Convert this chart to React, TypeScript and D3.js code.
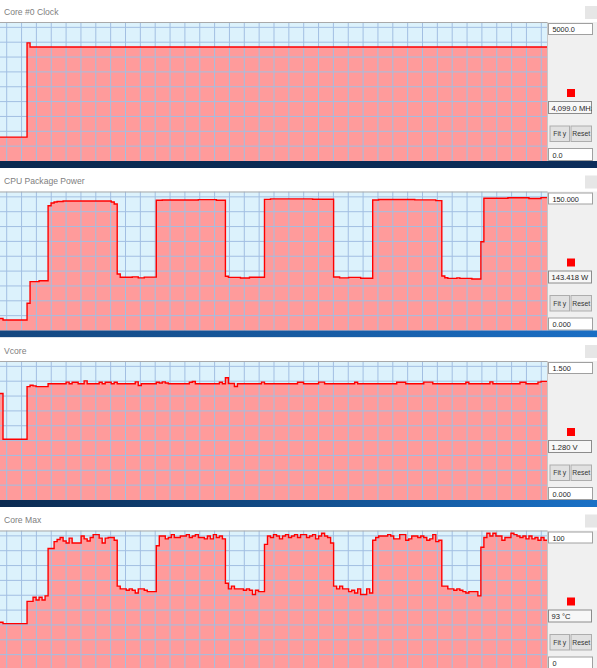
import React from "react";
import * as d3 from "d3";

const WIDTH = 597;
const HEIGHT = 668;

// Seconds of history visible in each graph
const SPAN = 182;

// Core #0 Clock (MHz): [second, value] change points
const clockPoints: [number, number][] = [
  [0, 860], [9, 4250], [10, 4099], [182, 4099],
];

// CPU Package Power (W): [second, value] change points
const powerPoints: [number, number][] = [
  [0, 13], [1, 11.3], [9, 29.4], [10, 52.7], [13, 53.7],
  [16, 134.7], [17, 137.6], [18, 138.7], [19, 139.2], [21, 139.8], [37, 138.7], [38, 136.5],
  [39, 61], [40, 57.5], [44, 57.9], [46, 56.8], [48, 57.6],
  [52, 140.5], [54, 140.9], [66, 141.2], [72, 140.6],
  [75, 58.5], [76, 57.3], [80, 56.6], [83, 57.5],
  [88, 141.5], [90, 142], [104, 141.6],
  [111, 57.8], [113, 56.8], [116, 57.3], [120, 56.4],
  [124, 140.8], [126, 141.3], [138, 141], [145, 140.2],
  [147, 58.8], [148, 57], [149, 56.3], [152, 56.8], [153, 56.3], [157, 55.6],
  [160, 95.8], [161, 142.7], [169, 143.3], [176, 142.4], [180, 143.418], [182, 143.418],
];

// Vcore (V): [second, value] change points
const vcorePoints: [number, number][] = [
  [0, 1.15], [1, 0.655], [9, 1.223], [10, 1.238], [11, 1.232], [12, 1.223],
  [16, 1.255], [22, 1.272], [23, 1.255], [24, 1.27], [26, 1.255], [28, 1.285], [29, 1.255],
  [33, 1.27], [34, 1.255], [35, 1.27], [37, 1.255], [38, 1.27], [39, 1.255],
  [45, 1.275], [46, 1.235], [47, 1.255], [52, 1.27], [53, 1.262], [54, 1.275], [55, 1.262],
  [56, 1.255], [63, 1.27], [64, 1.278], [65, 1.255], [73, 1.27], [74, 1.255],
  [75, 1.32], [76, 1.258], [78, 1.225], [79, 1.255], [87, 1.272], [88, 1.255],
  [99, 1.27], [101, 1.255], [106, 1.272], [108, 1.255], [118, 1.27], [119, 1.255],
  [132, 1.27], [135, 1.255], [141, 1.272], [144, 1.255], [155, 1.27], [156, 1.255],
  [163, 1.275], [164, 1.255], [173, 1.27], [175, 1.255], [179, 1.272], [180, 1.28], [182, 1.28],
];

// Core Max (°C): one reading per second, t = 0 … 182
const coreMaxValues: number[] = [
  34, 33, 33, 33, 33, 33, 33, 33, 33,
  49, 49, 52, 50, 52, 50, 53,
  87, 87, 92, 93.5, 95, 92.5, 91, 94.5, 91, 91, 91, 96, 94, 92.5, 95, 97, 97, 94.5, 91, 94.5, 95, 95, 93,
  60, 58, 58, 57, 58, 57, 55, 58, 58, 57, 56, 56, 56,
  89, 96, 96, 94, 95, 97, 95, 95, 96, 96, 97, 95, 96, 97, 95, 95, 94, 96, 94, 97, 95, 96, 94,
  62, 58, 60, 58, 58, 58, 57, 58, 57, 54, 57, 56, 56,
  90, 96, 95, 97, 96, 94, 96, 97, 95, 96, 97, 95, 97, 97, 95, 96, 97, 94, 96, 98, 96, 95, 91,
  60, 58, 60, 58, 58, 56, 57, 55, 58, 54, 54, 58, 55,
  93, 95, 96, 96, 96, 97, 96, 94, 94, 97, 97, 93, 94, 96, 96, 95, 96, 95, 93, 94, 97, 92, 93,
  60, 60, 58, 58, 57, 58, 57, 56, 55, 56, 56, 56, 53,
  88, 95, 98, 96, 98, 96, 96, 93, 95, 95, 98, 97, 96, 95, 96, 94, 96, 94, 95, 93, 95, 93, 93,
];
const coreMaxPoints: [number, number][] = coreMaxValues.map((v, i) => [i, v]);

// Per-graph settings
const titles = ["Core #0 Clock", "CPU Package Power", "Vcore", "Core Max"];
const seriesList = [clockPoints, powerPoints, vcorePoints, coreMaxPoints];
const scaleMax = [5000, 150, 1.5, 100];
const units = ["MHz", "W", "V", "°C"];
const limitFormats = [".1f", ".3f", ".3f", "d"];
const valueFormats = [",.1f", ".3f", ".3f", "d"];

// Layout
const PANEL_STEP = 169.5;
const FIRST_TOP = -1.5;
const HEADER_H = 23.5;
const PLOT_H = 139;
const PLOT_W = 547;
const GRID = 14.85;
const GRID_X0 = 6.7;

const barGradients = [
  ["#0a2950", "#0b2d5a"],
  ["#14477f", "#1a6ec4"],
  ["#0b2a50", "#1a71c6"],
];

const FONT = "'Liberation Sans', Arial, sans-serif";

function Panel({ index }: { index: number }) {
  const top = FIRST_TOP + index * PANEL_STEP;
  const plotTop = top + HEADER_H;
  const plotBottom = plotTop + PLOT_H;
  const data = seriesList[index];

  const x = d3.scaleLinear().domain([0, SPAN]).range([0, PLOT_W]);
  const y = d3.scaleLinear().domain([0, scaleMax[index]]).range([plotBottom, plotTop]);

  const line = d3
    .line<[number, number]>()
    .x((d) => x(d[0]))
    .y((d) => y(d[1]))
    .curve(d3.curveStepAfter);
  const area = d3
    .area<[number, number]>()
    .x((d) => x(d[0]))
    .y0(plotBottom + 2)
    .y1((d) => y(d[1]))
    .curve(d3.curveStepAfter);

  const vLines: number[] = [];
  for (let gx = GRID_X0; gx < PLOT_W; gx += GRID) vLines.push(gx);
  const hLines: number[] = [];
  for (let gy = plotBottom - GRID; gy > plotTop + 1; gy -= GRID) hLines.push(gy);

  const last = data[data.length - 1][1];
  const valueText = `${d3.format(valueFormats[index])(last)} ${units[index]}`;
  const topText = d3.format(limitFormats[index])(scaleMax[index]);
  const bottomText = d3.format(limitFormats[index])(0);

  const clipId = `plot-clip-${index}`;
  const valClip = `val-clip-${index}`;
  const gradId = `bar-grad-${index}`;
  const cx = 548.5;

  return (
    <g>
      <defs>
        <clipPath id={clipId}>
          <rect x={0} y={plotTop} width={PLOT_W} height={PLOT_H} />
        </clipPath>
        <clipPath id={valClip}>
          <rect x={cx} y={plotTop + 79.5} width={43} height={12} />
        </clipPath>
        {index < 3 && (
          <linearGradient id={gradId} x1="0" x2="1" y1="0" y2="0">
            <stop offset="0" stopColor={barGradients[index][0]} />
            <stop offset="1" stopColor={barGradients[index][1]} />
          </linearGradient>
        )}
      </defs>

      {/* window body and title strip */}
      <rect x={0} y={top} width={WIDTH} height={HEADER_H + PLOT_H} fill="#f0f0f0" />
      <rect x={0} y={top} width={WIDTH} height={HEADER_H} fill="#ffffff" />
      <rect x={585} y={top + 7.5} width={12} height={13} fill="#e6e6e6" />
      <text x={4} y={top + 16.2} fontFamily={FONT} fontSize={8.6} fill="#808080">
        {titles[index]}
      </text>

      {/* plot */}
      <g clipPath={`url(#${clipId})`}>
        <rect x={0} y={plotTop} width={PLOT_W} height={PLOT_H} fill="#dcf2fc" />
        <path d={area(data) ?? ""} fill="#ff9b9b" />
        {vLines.map((gx) => (
          <line key={`v${gx}`} x1={gx} x2={gx} y1={plotTop} y2={plotBottom} stroke="#a2bfe2" strokeWidth={1} />
        ))}
        {hLines.map((gy) => (
          <line key={`h${gy}`} x1={0} x2={PLOT_W} y1={gy} y2={gy} stroke="#a2bfe2" strokeWidth={1} />
        ))}
        <path d={line(data) ?? ""} fill="none" stroke="#ff0000" strokeWidth={1.4} />
      </g>
      <line x1={0} x2={PLOT_W} y1={plotTop + 0.5} y2={plotTop + 0.5} stroke="#a9a9a9" />
      <line x1={PLOT_W + 0.5} x2={PLOT_W + 0.5} y1={plotTop} y2={plotBottom} stroke="#c8c8c8" />

      {/* scale limits and current value */}
      <rect x={cx} y={plotTop + 1.5} width={44} height={11} fill="#ffffff" stroke="#a0a0a0" />
      <text x={cx + 4} y={plotTop + 10} fontFamily={FONT} fontSize={7.3} fill="#1e1e1e">
        {topText}
      </text>

      <rect x={567} y={plotTop + 67} width={8} height={8} fill="#ff0000" />

      <rect x={cx} y={plotTop + 79.5} width={43} height={12} fill="#f7f7f7" stroke="#8c8c8c" />
      <g clipPath={`url(#${valClip})`}>
        <text x={cx + 3} y={plotTop + 88.6} fontFamily={FONT} fontSize={7.6} fill="#1e1e1e">
          {valueText}
        </text>
      </g>

      <rect x={550} y={plotTop + 104} width={19.5} height={15.5} fill="#e1e1e1" stroke="#adadad" />
      <text x={559.75} y={plotTop + 114.3} textAnchor="middle" fontFamily={FONT} fontSize={6.8} fill="#333">
        Fit y
      </text>
      <rect x={571} y={plotTop + 104} width={20.5} height={15.5} fill="#e1e1e1" stroke="#adadad" />
      <text x={581.25} y={plotTop + 114.3} textAnchor="middle" fontFamily={FONT} fontSize={6.8} fill="#333">
        Reset
      </text>

      <rect x={cx} y={plotTop + 126.5} width={44} height={12} fill="#ffffff" stroke="#a0a0a0" />
      <text x={cx + 4} y={plotTop + 135.5} fontFamily={FONT} fontSize={7.3} fill="#1e1e1e">
        {bottomText}
      </text>

      {/* gap between stacked graph windows */}
      {index < 3 && (
        <rect x={0} y={plotBottom} width={WIDTH} height={top + PANEL_STEP - plotBottom} fill={`url(#${gradId})`} />
      )}
    </g>
  );
}

export default function App() {
  return (
    <svg
      width={WIDTH}
      height={HEIGHT}
      viewBox={`0 0 ${WIDTH} ${HEIGHT}`}
      style={{ position: "absolute", left: 0, top: 0, display: "block", background: "#f0f0f0" }}
    >
      {titles.map((_, i) => (
        <Panel key={i} index={i} />
      ))}
    </svg>
  );
}
